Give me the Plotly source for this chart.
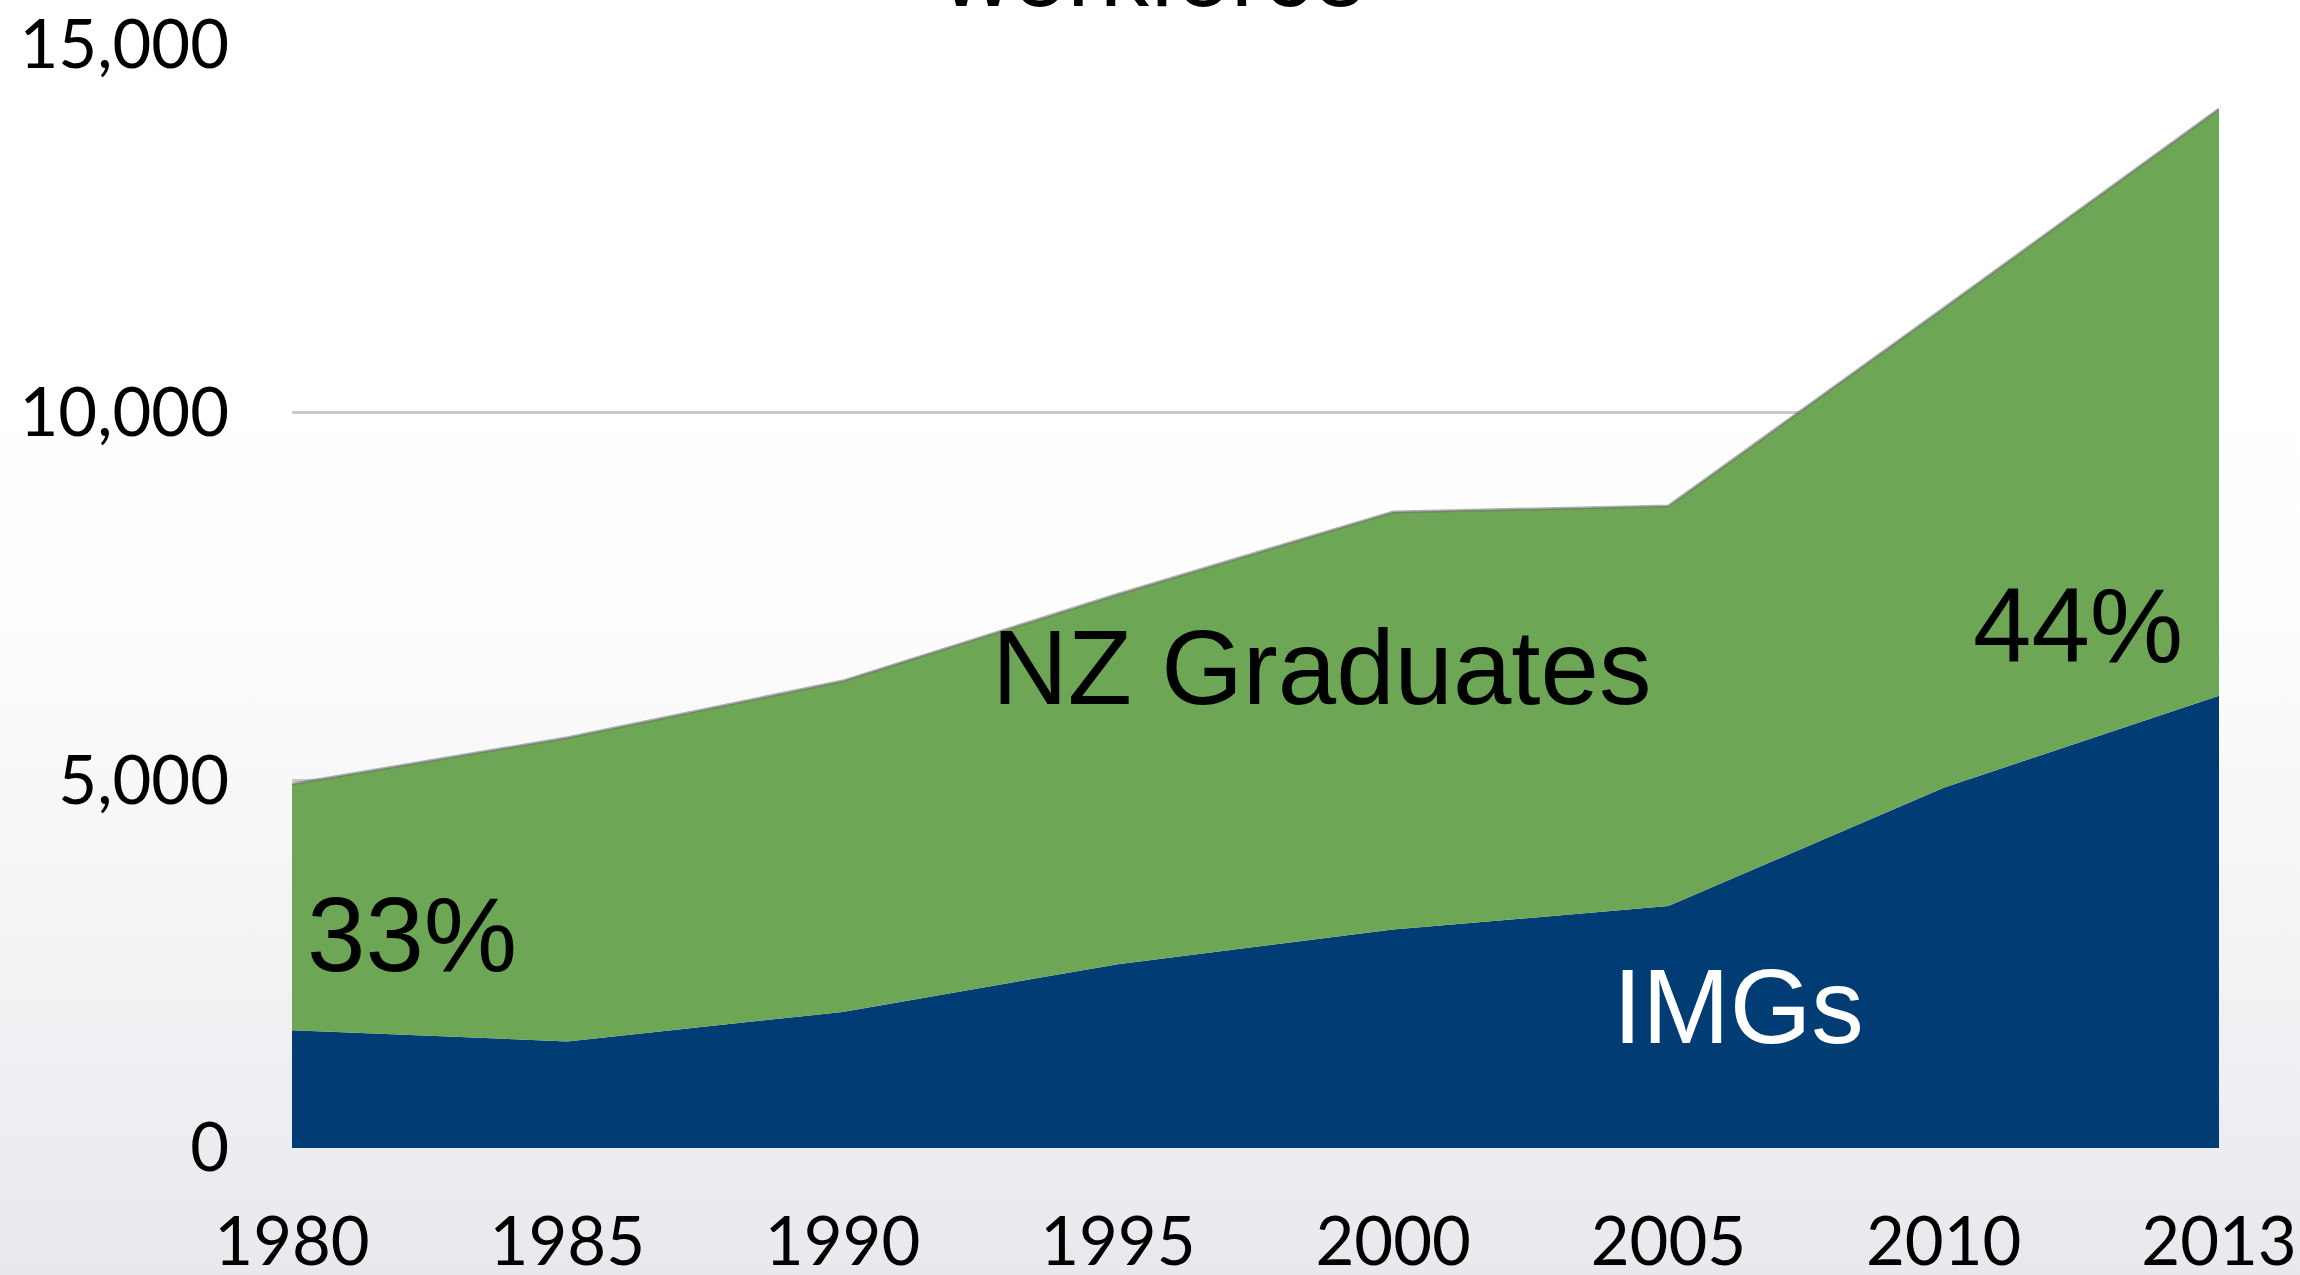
import base64
import plotly.graph_objects as go

years = ["1980", "1985", "1990", "1995", "2000", "2005", "2010", "2013"]
imgs = [1600, 1450, 1850, 2500, 2970, 3290, 4900, 6150]
nz_grads = [3350, 4130, 4500, 5030, 5680, 5440, 6520, 7980]
y_ticks = [0, 5000, 10000, 15000]
y_tick_text = ["0", "5,000", "10,000", "15,000"]

W, H = 2300, 1275
ML, MR, MT, MB = 292, 81, 45, 127
PW, PH = W - ML - MR, H - MT - MB

GREEN = "#6da756"
BLUE = "#023c75"

fig = go.Figure()
fig.add_trace(go.Scatter(
    x=years, y=imgs, name="IMGs", stackgroup="one", mode="lines",
    line=dict(width=0, color=BLUE), fillcolor=BLUE,
))
fig.add_trace(go.Scatter(
    x=years, y=nz_grads, name="NZ Graduates", stackgroup="one", mode="lines",
    line=dict(width=3, color="rgba(110,110,110,0.55)"), fillcolor=GREEN,
))

svg = (
    '<svg xmlns="http://www.w3.org/2000/svg" width="100" height="100" preserveAspectRatio="none">'
    '<defs><linearGradient id="g" x1="0" y1="0" x2="0" y2="1">'
    '<stop offset="0" stop-color="#ffffff"/>'
    '<stop offset="0.45" stop-color="#fefefe"/>'
    '<stop offset="1" stop-color="#e8e9ed"/>'
    '</linearGradient></defs>'
    '<rect width="100" height="100" fill="url(#g)"/></svg>'
)
src = "data:image/svg+xml;base64," + base64.b64encode(svg.encode()).decode()

fig.add_layout_image(dict(
    source=src, xref="paper", yref="paper",
    x=-ML / PW, y=1 + MT / PH, sizex=W / PW, sizey=H / PH,
    xanchor="left", yanchor="top", sizing="stretch", layer="below",
))

label_font = "Liberation Sans, Arial, sans-serif"
annos = [
    dict(text="NZ Graduates", x=3.74, y=6535, color="black"),
    dict(text="33%", x=0.436, y=2900, color="black"),
    dict(text="44%", x=6.488, y=7106, color="black"),
    dict(text="IMGs", x=5.253, y=1929, color="white"),
]
for a in annos:
    fig.add_annotation(
        text=a["text"], x=a["x"], y=a["y"], xref="x", yref="y",
        showarrow=False, font=dict(family=label_font, size=105, color=a["color"]),
    )

fig.add_annotation(
    text="workforce", xref="paper", yref="paper",
    x=(1154 - ML) / PW, y=1 + (MT - 29) / PH, xanchor="center", yanchor="bottom",
    showarrow=False, font=dict(family=label_font, size=98, color="black"),
)

tick_font = dict(family="Lato, Open Sans, sans-serif", size=67, color="black")

fig.update_layout(
    width=W, height=H,
    margin=dict(l=ML, r=MR, t=MT, b=MB, pad=0, autoexpand=False),
    paper_bgcolor="rgba(0,0,0,0)", plot_bgcolor="rgba(0,0,0,0)",
    showlegend=False,
    xaxis=dict(
        type="category", range=[0, 7], showgrid=False, zeroline=False,
        showline=False, ticks="", tickfont=tick_font, ticklabelstandoff=49,
        automargin=False,
    ),
    yaxis=dict(
        range=[0, 15000], tickvals=y_ticks, ticktext=y_tick_text,
        showgrid=True, gridcolor="#c9c9c9", gridwidth=3, zeroline=False,
        showline=False, ticks="", tickfont=tick_font, ticklabelstandoff=62,
        automargin=False,
    ),
)

fig.write_html(
    "out.html",
    config={"displayModeBar": False},
    post_script="document.body.style.margin='0';document.body.style.overflow='hidden';",
)
